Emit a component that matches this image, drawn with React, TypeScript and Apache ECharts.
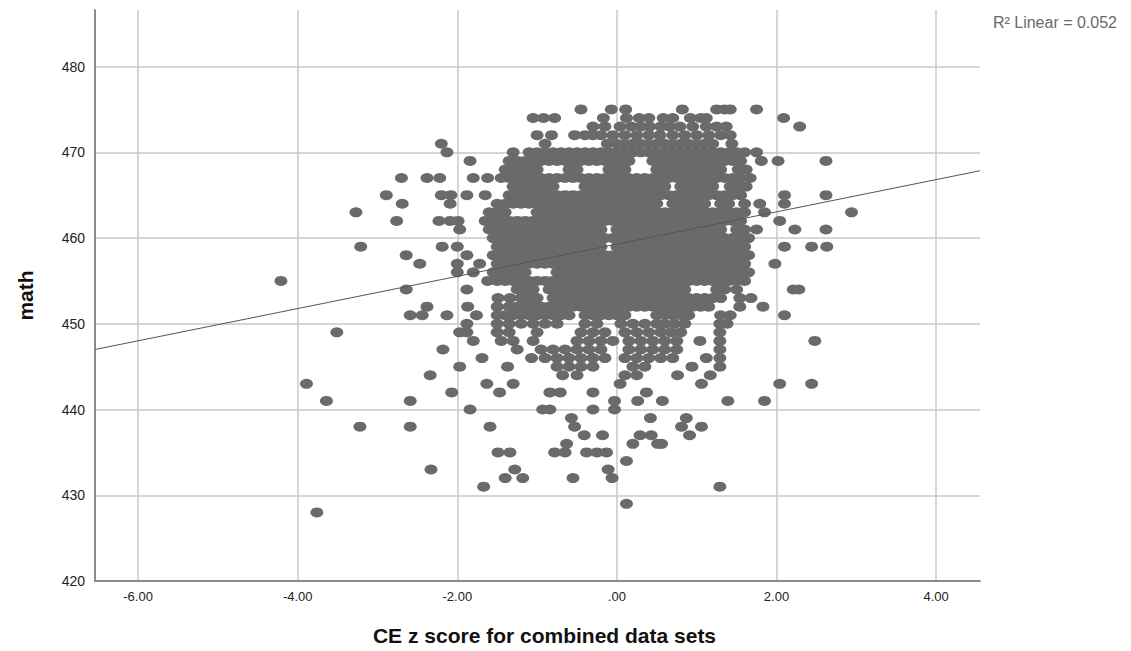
import React, { useEffect, useRef } from "react";
import * as echarts from "echarts";

// ---- data: each row is [math score, list of CE z scores] ----
const upperRows: [number, number[]][] = [
  [475, [-0.45, -0.07, 0.11, 0.82, 1.25, 1.35, 1.42, 1.75]],
  [474, [-1.05, -0.92, -0.78, -0.17, 0.12, 0.28, 0.4, 0.58, 0.7, 0.92, 1.05, 1.12, 2.09]],
  [473, [-0.3, -0.15, 0.04, 0.18, 0.3, 0.41, 0.55, 0.66, 0.79, 0.95, 1.12, 1.25, 1.37, 2.29]],
  [472, [-1.0, -0.82, -0.53, -0.4, -0.3, -0.2, -0.05, 0.1, 0.25, 0.4, 0.54, 0.7, 0.85, 1.0, 1.15, 1.3, 1.42]],
  [471, [-2.2, -0.9, -0.12, 0.0, 0.1, 0.2, 0.3, 0.4, 0.5, 0.6, 0.7, 0.8, 0.9, 1.0, 1.1, 1.2, 1.44]],
  [470, [-2.13, -1.3, -1.1, -1.0, -0.9, -0.8, -0.7, -0.6, -0.5, -0.4, -0.3, -0.2, -0.1, 0.0, 0.1, 0.2, 0.3, 0.4, 0.5, 0.6, 0.7, 0.8, 0.9, 1.0, 1.1, 1.2, 1.3, 1.4, 1.5, 1.6, 1.75]],
];

const coreRows: [number, number[]][] = [
  [469, [-1.84, -1.35, -1.25, -1.15, -1.05, -0.95, -0.85, -0.75, -0.65, -0.55, -0.45, -0.35, -0.25, -0.15, -0.05, 0.05, 0.15, 0.45, 0.55, 0.65, 0.75, 0.85, 0.95, 1.05, 1.15, 1.25, 1.35, 1.45, 1.55, 1.81, 2.02, 2.62]],
  [468, [-1.4, -1.3, -1.2, -1.1, -1.0, -0.6, -0.5, -0.1, 0.0, 0.1, 0.5, 0.6, 0.7, 0.8, 0.9, 1.0, 1.1, 1.2, 1.3, 1.52, 1.62]],
  [467, [-2.7, -2.38, -2.22, -1.8, -1.62, -1.45, -1.35, -1.25, -1.15, -1.05, -0.95, -0.85, -0.75, -0.65, -0.55, -0.45, -0.35, -0.25, -0.15, -0.05, 0.05, 0.15, 0.25, 0.35, 0.45, 0.55, 0.65, 0.75, 0.85, 0.95, 1.05, 1.15, 1.25, 1.35, 1.45, 1.55, 1.67]],
  [466, [-1.3, -1.2, -1.1, -1.0, -0.9, -0.8, -0.4, -0.3, -0.2, -0.1, 0.0, 0.1, 0.2, 0.3, 0.4, 0.5, 0.6, 0.8, 0.9, 1.0, 1.1, 1.2, 1.42, 1.52, 1.62]],
  [465, [-2.89, -2.2, -2.08, -1.88, -1.65, -1.35, -1.25, -1.15, -1.05, -0.95, -0.85, -0.75, -0.65, -0.55, -0.45, -0.35, -0.25, -0.15, -0.05, 0.05, 0.15, 0.25, 0.35, 0.45, 0.55, 0.65, 0.75, 0.85, 0.95, 1.05, 1.15, 1.25, 1.35, 1.45, 1.55, 2.1, 2.62]],
  [464, [-2.69, -2.09, -1.5, -1.4, -1.3, -1.2, -1.1, -1.0, -0.9, -0.8, -0.7, -0.6, -0.5, -0.4, -0.3, -0.2, -0.1, 0.0, 0.1, 0.2, 0.3, 0.4, 0.5, 0.7, 0.8, 0.9, 1.0, 1.1, 1.3, 1.4, 1.6, 1.79, 2.1]],
  [463, [-3.27, -1.6, -1.5, -1.4, -1.0, -0.9, -0.8, -0.7, -0.6, -0.5, -0.4, -0.3, -0.2, -0.1, 0.0, 0.1, 0.2, 0.3, 0.4, 0.5, 0.6, 0.7, 0.8, 0.9, 1.0, 1.1, 1.2, 1.3, 1.4, 1.5, 1.6, 1.85, 2.94]],
  [462, [-2.76, -2.23, -2.09, -1.99, -1.65, -1.55, -1.45, -1.35, -1.25, -1.15, -1.05, -0.95, -0.85, -0.75, -0.65, -0.55, -0.45, -0.35, -0.25, -0.15, -0.05, 0.05, 0.15, 0.25, 0.35, 0.45, 0.55, 0.65, 0.75, 0.85, 0.95, 1.05, 1.15, 1.25, 1.35, 1.45, 1.55, 2.04]],
  [461, [-1.97, -1.6, -1.5, -1.4, -1.3, -1.2, -1.1, -1.0, -0.9, -0.8, -0.7, -0.6, -0.5, -0.4, -0.3, -0.2, 0.0, 0.1, 0.2, 0.3, 0.4, 0.5, 0.6, 0.7, 0.8, 0.9, 1.0, 1.1, 1.2, 1.3, 1.5, 1.6, 1.75, 2.23, 2.62]],
  [460, [-1.55, -1.45, -1.35, -1.25, -1.15, -1.05, -0.95, -0.85, -0.75, -0.65, -0.55, -0.45, -0.35, -0.25, -0.15, -0.05, 0.05, 0.15, 0.25, 0.35, 0.45, 0.55, 0.65, 0.75, 0.85, 0.95, 1.05, 1.15, 1.25, 1.35, 1.45, 1.55, 1.65]],
  [459, [-3.21, -2.19, -2.0, -1.5, -1.4, -1.3, -1.2, -1.1, -1.0, -0.9, -0.8, -0.7, -0.6, -0.5, -0.4, -0.3, -0.2, 0.0, 0.1, 0.2, 0.3, 0.4, 0.5, 0.6, 0.7, 0.8, 0.9, 1.0, 1.1, 1.2, 1.3, 1.4, 1.5, 1.6, 2.1, 2.44, 2.63]],
  [458, [-2.64, -1.88, -1.55, -1.45, -1.35, -1.25, -1.15, -1.05, -0.95, -0.85, -0.75, -0.65, -0.55, -0.45, -0.35, -0.25, -0.15, -0.05, 0.05, 0.15, 0.25, 0.35, 0.45, 0.55, 0.65, 0.75, 0.85, 0.95, 1.05, 1.15, 1.25, 1.35, 1.45, 1.55, 1.65]],
  [457, [-2.47, -2.0, -1.72, -1.5, -1.4, -1.3, -1.2, -1.1, -1.0, -0.9, -0.8, -0.7, -0.6, -0.5, -0.4, -0.3, -0.2, -0.1, 0.0, 0.1, 0.2, 0.3, 0.4, 0.5, 0.6, 0.7, 0.8, 0.9, 1.0, 1.1, 1.2, 1.3, 1.4, 1.5, 1.6, 1.98]],
  [456, [-2.0, -1.8, -1.55, -1.45, -1.35, -1.25, -1.15, -0.75, -0.65, -0.55, -0.45, -0.35, -0.25, -0.15, -0.05, 0.05, 0.15, 0.25, 0.35, 0.45, 0.55, 0.65, 0.75, 0.85, 0.95, 1.05, 1.15, 1.25, 1.35, 1.45, 1.55, 1.65]],
  [455, [-4.21, -1.62, -1.5, -1.4, -1.3, -1.2, -1.1, -1.0, -0.9, -0.8, -0.7, -0.6, -0.5, -0.4, -0.3, -0.2, -0.1, 0.0, 0.1, 0.2, 0.3, 0.4, 0.5, 0.6, 0.7, 0.8, 0.9, 1.0, 1.1, 1.2, 1.3, 1.4, 1.5, 1.6]],
  [454, [-2.64, -1.88, -1.25, -1.15, -1.05, -0.85, -0.75, -0.65, -0.55, -0.45, -0.35, -0.25, -0.15, -0.05, 0.05, 0.15, 0.25, 0.35, 0.45, 0.55, 0.65, 0.75, 0.85, 1.25, 1.35, 1.5, 2.21, 2.28]],
  [453, [-1.49, -1.34, -1.2, -1.1, -1.0, -0.8, -0.7, -0.6, -0.5, -0.4, -0.3, -0.2, -0.1, 0.0, 0.1, 0.2, 0.3, 0.4, 0.5, 0.6, 0.7, 0.8, 0.9, 1.0, 1.1, 1.2, 1.3, 1.54, 1.68]],
  [452, [-2.38, -1.87, -1.5, -1.35, -1.25, -1.15, -1.05, -0.95, -0.85, -0.75, -0.65, -0.55, -0.45, -0.35, -0.25, -0.15, -0.05, 0.05, 0.15, 0.25, 0.35, 0.45, 0.55, 0.65, 0.75, 0.85, 0.95, 1.05, 1.15, 1.54, 1.83]],
  [451, [-2.59, -2.44, -2.13, -1.76, -1.5, -1.4, -1.3, -1.2, -1.1, -1.0, -0.9, -0.8, -0.7, -0.6, -0.4, -0.3, -0.2, -0.1, 0.0, 0.1, 0.5, 0.6, 0.7, 0.8, 0.9, 1.3, 1.42, 2.1]],
  [450, [-1.88, -1.5, -1.35, -1.2, -1.05, -0.9, -0.75, -0.4, -0.25, 0.05, 0.2, 0.35, 0.5, 0.6, 0.72, 0.85, 1.29, 1.38]],
];

const lowerRows: [number, number[]][] = [
  [449, [-3.51, -1.97, -1.88, -1.5, -1.35, -1.0, -0.45, -0.3, -0.15, 0.1, 0.25, 0.4, 0.55, 0.68, 0.8, 1.29]],
  [448, [-1.8, -1.45, -1.3, -1.05, -0.5, -0.35, -0.2, -0.05, 0.15, 0.3, 0.45, 0.6, 0.75, 1.04, 1.29, 2.48]],
  [447, [-2.18, -1.25, -0.95, -0.8, -0.65, -0.5, -0.35, -0.2, 0.15, 0.3, 0.45, 0.6, 0.75, 1.29]],
  [446, [-1.69, -1.07, -0.9, -0.75, -0.6, -0.45, -0.3, -0.15, 0.1, 0.25, 0.4, 0.55, 0.7, 1.12, 1.29]],
  [445, [-1.97, -1.37, -0.75, -0.6, -0.45, -0.3, 0.2, 0.35, 0.94, 1.29]],
  [444, [-2.34, -0.68, -0.5, 0.1, 0.25, 0.76, 1.17]],
  [443, [-3.89, -1.63, -1.3, 0.04, 1.06, 2.04, 2.44]],
  [442, [-2.07, -1.47, -0.84, -0.71, -0.3, 0.37]],
  [441, [-3.64, -2.59, -0.03, 0.26, 0.57, 1.39, 1.85]],
  [440, [-1.84, -0.93, -0.84, -0.3, -0.03]],
  [439, [-0.57, 0.42, 0.87]],
  [438, [-3.22, -2.59, -1.59, -0.53, 0.81, 1.06]],
  [437, [-0.41, -0.18, 0.29, 0.43, 0.91]],
  [436, [-0.63, 0.2, 0.51, 0.56]],
  [435, [-1.49, -1.34, -0.78, -0.65, -0.38, -0.25, -0.13]],
  [434, [0.12]],
  [433, [-2.33, -1.28, -0.11]],
  [432, [-1.4, -1.18, -0.55, -0.06]],
  [431, [-1.67, 1.29]],
  [429, [0.12]],
  [428, [-3.76]],
];

// Linear fit line end points (x, math)
const fitLineX = [-6.54, 4.55];
const fitLineY = [447.0, 467.85];

const xTicks = [-6, -4, -2, 0, 2, 4];
const yTicks = [420, 430, 440, 450, 460, 470, 480];
const xTitle = "CE z score for combined data sets";
const yTitle = "math";
const r2Label = "R\u00B2 Linear = 0.052";

const FONT = "'Liberation Sans', Arial, sans-serif";

function fmtX(v: number): string {
  const s = v.toFixed(2);
  return s.replace(/^0\./, ".").replace(/^-0\./, "-.");
}

export default function App() {
  const ref = useRef<HTMLDivElement>(null);
  useEffect(() => {
    if (!ref.current) return;
    const chart = echarts.init(ref.current, undefined, { renderer: "svg" });
    const points: number[][] = [];
    [...upperRows, ...coreRows, ...lowerRows].forEach(([y, xs]) => {
      xs.forEach((x) => points.push([x, y]));
    });
    const option: any = {
      animation: false,
      backgroundColor: "#ffffff",
      grid: { left: 95, right: 151, top: 10, bottom: 59, containLabel: false },
      xAxis: {
        type: "value",
        min: -6.54,
        max: 4.55,
        name: xTitle,
        nameLocation: "middle",
        nameGap: 44,
        nameTextStyle: { fontSize: 21, fontWeight: "bold", color: "#111", fontFamily: FONT, padding: [0, 0, 0, 14] },
        axisLine: { show: true, onZero: false, lineStyle: { color: "#8a8a8a", width: 2 } },
        axisTick: { show: false },
        axisLabel: {
          showMinLabel: false,
          showMaxLabel: false,
          fontSize: 13,
          color: "#222",
          fontFamily: FONT,
          margin: 9,
          formatter: (v: number) => (xTicks.indexOf(Math.round(v * 100) / 100) >= 0 ? fmtX(v) : ""),
        },
        splitLine: { show: true, showMinLine: false, showMaxLine: false, lineStyle: { color: "#c8c8c8", width: 1.5 } },
      },
      yAxis: {
        type: "value",
        min: 420,
        max: 486.6,
        interval: 10,
        name: yTitle,
        nameLocation: "middle",
        nameGap: 59,
        nameTextStyle: { fontSize: 21, fontWeight: "bold", color: "#111", fontFamily: FONT },
        axisLine: { show: true, onZero: false, lineStyle: { color: "#8a8a8a", width: 2 } },
        axisTick: { show: false },
        axisLabel: {
          showMaxLabel: false,
          fontSize: 14,
          color: "#222",
          fontFamily: FONT,
          margin: 10,
          formatter: (v: number) => (yTicks.indexOf(v) >= 0 ? String(v) : ""),
        },
        splitLine: { show: true, showMinLine: false, showMaxLine: false, lineStyle: { color: "#c8c8c8", width: 1.5 } },
      },
      series: [
        {
          type: "scatter",
          data: points,
          symbol: "circle",
          symbolSize: [13, 10],
          itemStyle: { color: "#6a6a6a", opacity: 1 },
          silent: true,
          z: 2,
        },
        {
          type: "line",
          data: fitLineX.map((x, i) => [x, fitLineY[i]]),
          symbol: "none",
          lineStyle: { color: "#555555", width: 1 },
          silent: true,
          z: 3,
        },
      ],
      graphic: [
        {
          type: "text",
          right: 14,
          top: 14,
          style: { text: r2Label, fontSize: 16, fill: "#6a6a6a", fontFamily: FONT },
        },
      ],
    };
    chart.setOption(option);
    return () => chart.dispose();
  }, []);
  return (
    <div
      ref={ref}
      style={{ position: "fixed", left: 0, top: 0, width: 1131, height: 651, background: "#fff" }}
    />
  );
}
